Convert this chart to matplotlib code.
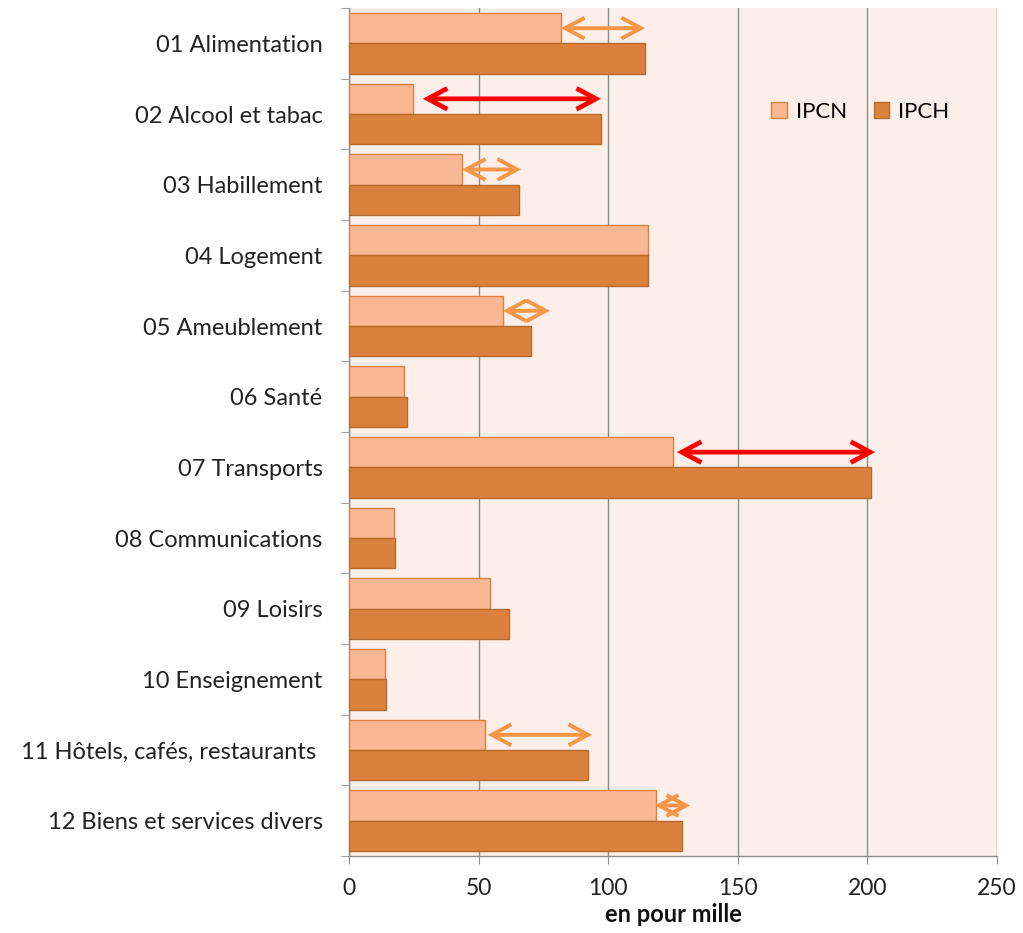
import matplotlib
matplotlib.use("Agg")
import matplotlib.pyplot as plt
import numpy as np

categories = [
    "01 Alimentation",
    "02 Alcool et tabac",
    "03 Habillement",
    "04 Logement",
    "05 Ameublement",
    "06 Santé",
    "07 Transports",
    "08 Communications",
    "09 Loisirs",
    "10 Enseignement",
    "11 Hôtels, cafés, restaurants ",
    "12 Biens et services divers",
]
ipcn = [81.8, 24.7, 43.6, 115.4, 59.4, 21.2, 125.0, 17.4, 54.4, 13.9, 52.5, 118.4]
ipch = [114.2, 97.2, 65.6, 115.4, 70.2, 22.4, 201.4, 17.7, 61.7, 14.3, 92.2, 128.5]
# gaps highlighted with a double arrow: (category index, start, end, colour)
gap_arrows = [
    (0, 81.8, 114.2, "#F79646"),
    (1, 28.5, 97.2, "#FF0000"),
    (2, 43.6, 66.4, "#F79646"),
    (4, 59.4, 77.5, "#F79646"),
    (6, 126.5, 203.0, "#FF0000"),
    (10, 53.5, 93.8, "#F79646"),
    (11, 118.0, 131.6, "#F79646"),
]
xticks = [0, 50, 100, 150, 200, 250]

plt.rcParams["font.family"] = ["Lato", "DejaVu Sans"]

fig = plt.figure(figsize=(10.23, 9.33), dpi=100)
ax = fig.add_axes([349 / 1023, 1 - 856 / 933, (997 - 349) / 1023, (856 - 8) / 933])
ax.set_facecolor("#FCEEE9")

n = len(categories)
y = np.arange(n)
h = 0.43
ax.barh(y - h / 2, ipcn, height=h, color="#F9B794", edgecolor="#D9823E", linewidth=1.0,
        label="IPCN", zorder=3)
ax.barh(y + h / 2, ipch, height=h, color="#DA823D", edgecolor="#B86A2C", linewidth=1.0,
        label="IPCH", zorder=3)

for i, x0, x1, col in gap_arrows:
    lw = 3.4 if col == "#FF0000" else 2.8
    ax.annotate("", xy=(x1, i - h / 2), xytext=(x0, i - h / 2),
                arrowprops=dict(arrowstyle="<->,head_length=1.4,head_width=0.75",
                                color=col, lw=lw, shrinkA=0, shrinkB=0,
                                joinstyle="miter", capstyle="butt"),
                zorder=4)

ax.set_xlim(0, 250)
ax.set_ylim(n - 0.5, -0.5)
ax.set_xticks(xticks)
ax.set_xticklabels([str(t) for t in xticks], fontsize=16.5, color="#222222")
ax.xaxis.grid(True, color="#8C8C8C", linewidth=1.0, zorder=1)
ax.set_axisbelow(True)

ax.set_yticks(y)
ax.set_yticklabels(categories, fontsize=17, color="#222222")
ax.set_yticks(np.arange(-0.5, n, 1.0), minor=True)
ax.tick_params(axis="y", which="major", length=0, pad=19)
ax.tick_params(axis="y", which="minor", length=6, color="#8C8C8C", direction="out")
ax.tick_params(axis="x", length=6, color="#8C8C8C", direction="out", pad=10)

for side in ["top", "right"]:
    ax.spines[side].set_visible(False)
for side in ["left", "bottom"]:
    ax.spines[side].set_color("#8C8C8C")
    ax.spines[side].set_linewidth(1.0)

ax.set_xlabel("en pour mille", fontsize=17, fontweight="bold", color="#111111", labelpad=3)

leg = ax.legend(loc="upper left", bbox_to_anchor=(0.621, 0.913), ncol=2, frameon=False,
                fontsize=16, handlelength=0.7, handleheight=0.7, handletextpad=0.4,
                columnspacing=1.2)

fig.savefig("out.png", dpi=100, facecolor="white")
